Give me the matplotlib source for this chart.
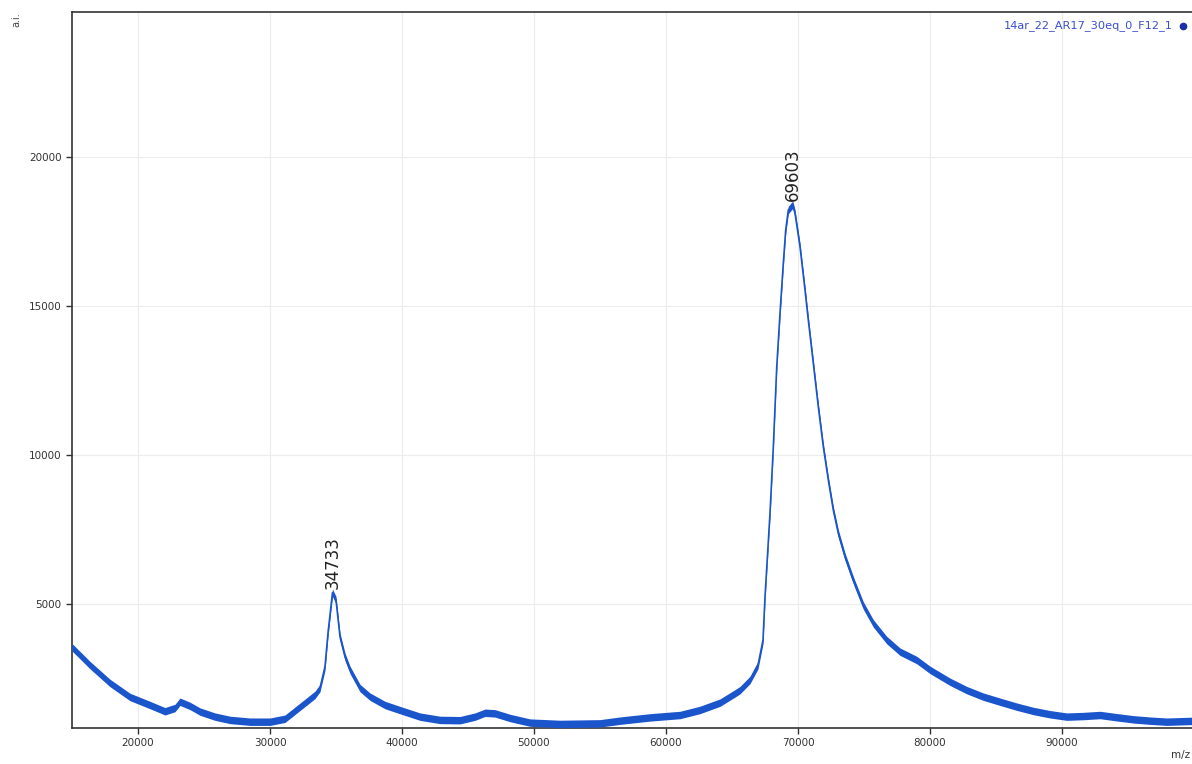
import matplotlib
matplotlib.use("Agg")
import matplotlib.pyplot as plt
import numpy as np

# Spectrum trace (m/z, intensity in a.i.)
mz = [15000, 16364, 17879, 19394, 20909, 22045, 22803, 23182, 23940, 24697,
      25833, 26970, 28485, 30000, 31136, 32273, 33409, 33788, 34167, 34394,
      34733, 35000, 35303, 35682, 36061, 36818, 37576, 38712, 39849, 41364,
      42879, 44394, 45530, 46288, 47046, 48182, 49697, 51970, 55000, 56515,
      58788, 61061, 62576, 64091, 65227, 65606, 66364, 66970, 67349, 67500,
      67879, 68131, 68389, 68636, 68886, 69068, 69265, 69603, 69774, 70152,
      70530, 70780, 71159, 71538, 71917, 72296, 72675, 73053, 73561, 74190,
      74947, 75705, 76720, 77727, 78993, 80000, 81515, 82780, 84038, 85303,
      86568, 87828, 89091, 90356, 91614, 92879, 94144, 95403, 96667, 97932,
      100000]
intensity = [3550, 2950, 2350, 1880, 1610, 1400, 1510, 1720, 1580, 1390,
             1220, 1110, 1050, 1050, 1150, 1550, 1950, 2180, 2900, 4030,
             5380, 5130, 3900, 3230, 2790, 2180, 1890, 1610, 1440, 1220,
             1110, 1100, 1220, 1350, 1330, 1175, 1020, 975, 995, 1085,
             1195, 1275, 1445, 1690, 2000, 2110, 2450, 2950, 3790, 5240,
             8050, 10280, 12960, 14750, 16430, 17550, 18220, 18400, 18110, 16990,
             15540, 14530, 13080, 11620, 10280, 9160, 8155, 7370, 6590, 5800,
             4950, 4350, 3790, 3400, 3120, 2790, 2390, 2110, 1890, 1720,
             1555, 1410, 1300, 1220, 1240, 1275, 1200, 1130, 1085, 1050,
             1080]

# Labelled peaks
peak_mz = [34733, 69603]
peak_int = [5380, 18400]

x_ticks = [20000, 30000, 40000, 50000, 60000, 70000, 80000, 90000]
y_ticks = [5000, 10000, 15000, 20000]
series_name = "14ar_22_AR17_30eq_0_F12_1"

line_color = "#1b55cc"
noise_halfwidth = 125

W, H = 1192, 764
fig = plt.figure(figsize=(W / 100, H / 100), dpi=100)
ax = fig.add_axes([72 / W, (H - 728) / H, 1122 / W, 716 / H])

x = np.asarray(mz, dtype=float)
y = np.asarray(intensity, dtype=float)
ax.fill_between(x, y - noise_halfwidth, y + noise_halfwidth,
                color=line_color, lw=0, zorder=3)
ax.plot(x, y, color=line_color, lw=1.2, zorder=3)

for px, py in zip(peak_mz, peak_int):
    ax.annotate(f"{px}", xy=(px, py), xytext=(0, 3), textcoords="offset points",
                rotation=90, ha="center", va="bottom", fontsize=12,
                color="#222222", zorder=5)

ax.set_xlim(15000, 100000)
ax.set_ylim(839, 24866)
ax.set_xticks(x_ticks)
ax.set_yticks(y_ticks)
ax.grid(True, color="#ececec", lw=0.8, zorder=0)
ax.set_axisbelow(True)

ax.tick_params(axis="both", direction="out", length=4.5, width=1.0,
               color="#333333", labelsize=7.5, labelcolor="#333333", pad=3)
for side in ["left", "bottom", "top"]:
    ax.spines[side].set_color("#333333")
    ax.spines[side].set_linewidth(1.2)
ax.spines["right"].set_visible(False)

fig.text(16 / W, 1 - 20 / H, "a.i.", rotation=90, ha="center", va="center",
         fontsize=7, color="#444444")
fig.text(1171 / W, 1 - 755 / H, "m/z", ha="left", va="center",
         fontsize=7.5, color="#333333")

# Series legend in the top-right corner
fig.text(1173 / W, 1 - 26 / H, series_name, ha="right", va="center",
         fontsize=8.2, color="#3a4fcc")
fig.add_artist(plt.Line2D([1183 / W], [1 - 26 / H], marker="o", markersize=4.5,
                          color="#1a2fa8", transform=fig.transFigure))

fig.savefig("out.png", dpi=100, facecolor="white")
